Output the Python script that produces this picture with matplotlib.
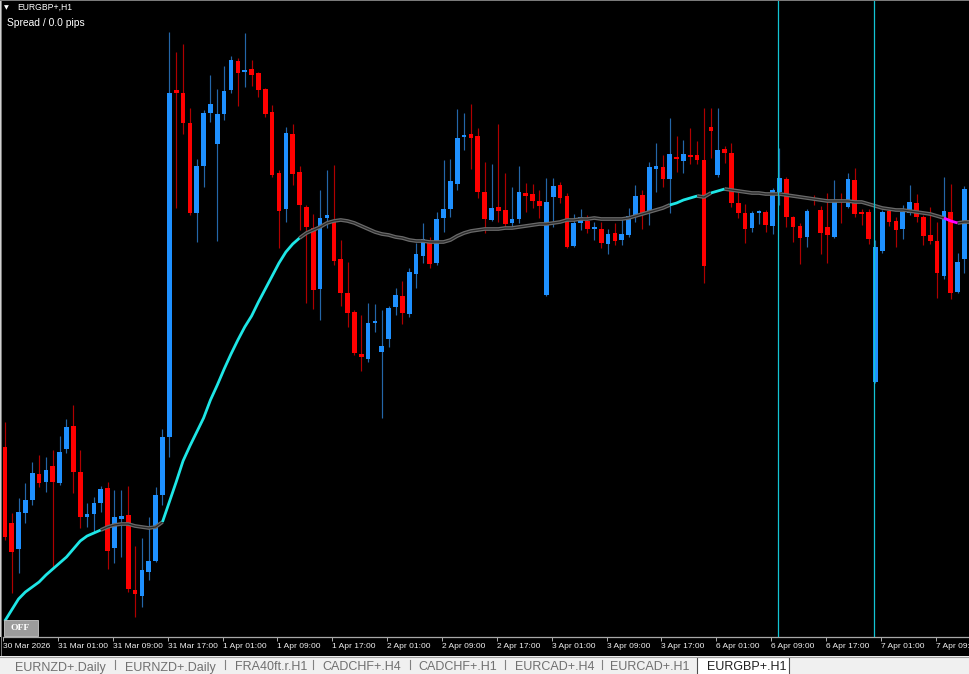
import numpy as np
import matplotlib
matplotlib.use('Agg')
import matplotlib.pyplot as plt
from matplotlib.patches import Rectangle

W, H = 970, 674

symbol = 'EURGBP+,H1'
spread_text = 'Spread / 0.0 pips'

# hourly OHLC, bar 0 = 30 Mar 17:00
opens = [0.86553, 0.86477, 0.86451, 0.86487, 0.86500, 0.86526, 0.86518, 0.86534, 0.86517, 0.86551,
         0.86574, 0.86528, 0.86483, 0.86486, 0.86497, 0.86512, 0.86452, 0.86481, 0.86485, 0.86410,
         0.86404, 0.86428, 0.86439, 0.86505, 0.86563, 0.86910, 0.86907, 0.86877, 0.86787, 0.86834,
         0.86887, 0.86856, 0.86886, 0.86910, 0.86939, 0.86928, 0.86931, 0.86927, 0.86911, 0.86888,
         0.86827, 0.86791, 0.86866, 0.86828, 0.86793, 0.86772, 0.86711, 0.86782, 0.86780, 0.86741,
         0.86707, 0.86688, 0.86646, 0.86641, 0.86677, 0.86648, 0.86661, 0.86693, 0.86704, 0.86686,
         0.86726, 0.86744, 0.86757, 0.86737, 0.86782, 0.86791, 0.86816, 0.86863, 0.86866, 0.86864,
         0.86808, 0.86780, 0.86793, 0.86790, 0.86777, 0.86781, 0.86807, 0.86806, 0.86799, 0.86705,
         0.86803, 0.86815, 0.86804, 0.86754, 0.86777, 0.86779, 0.86771, 0.86771, 0.86756, 0.86767,
         0.86760, 0.86765, 0.86784, 0.86805, 0.86787, 0.86831, 0.86833, 0.86821, 0.86843, 0.86839,
         0.86845, 0.86845, 0.86840, 0.86873, 0.86825, 0.86851, 0.86847, 0.86797, 0.86787, 0.86772,
         0.86787, 0.86788, 0.86774, 0.86808, 0.86821, 0.86783, 0.86774, 0.86763, 0.86801, 0.86790,
         0.86773, 0.86763, 0.86800, 0.86793, 0.86820, 0.86788, 0.86788, 0.86618, 0.86749, 0.86789,
         0.86779, 0.86771, 0.86787, 0.86797, 0.86783, 0.86765, 0.86759, 0.86724, 0.86788, 0.86708,
         0.86741, 0.86811]
highs = [0.86578, 0.86487, 0.86502, 0.86517, 0.86538, 0.86545, 0.86543, 0.86550, 0.86564, 0.86581,
         0.86595, 0.86550, 0.86497, 0.86503, 0.86514, 0.86518, 0.86510, 0.86510, 0.86514, 0.86454,
         0.86462, 0.86483, 0.86513, 0.86571, 0.86968, 0.86948, 0.86956, 0.86892, 0.86841, 0.86890,
         0.86925, 0.86911, 0.86934, 0.86944, 0.86942, 0.86967, 0.86940, 0.86928, 0.86912, 0.86895,
         0.86830, 0.86873, 0.86876, 0.86834, 0.86795, 0.86786, 0.86810, 0.86830, 0.86835, 0.86760,
         0.86738, 0.86690, 0.86685, 0.86697, 0.86696, 0.86690, 0.86694, 0.86712, 0.86719, 0.86732,
         0.86757, 0.86777, 0.86763, 0.86788, 0.86840, 0.86841, 0.86891, 0.86887, 0.86896, 0.86872,
         0.86838, 0.86836, 0.86876, 0.86827, 0.86813, 0.86834, 0.86817, 0.86816, 0.86810, 0.86822,
         0.86822, 0.86818, 0.86807, 0.86786, 0.86791, 0.86785, 0.86778, 0.86778, 0.86771, 0.86777,
         0.86782, 0.86792, 0.86815, 0.86810, 0.86838, 0.86857, 0.86845, 0.86882, 0.86864, 0.86860,
         0.86872, 0.86859, 0.86892, 0.86892, 0.86892, 0.86854, 0.86857, 0.86808, 0.86796, 0.86789,
         0.86790, 0.86790, 0.86812, 0.86852, 0.86823, 0.86784, 0.86777, 0.86791, 0.86805, 0.86794,
         0.86807, 0.86820, 0.86807, 0.86827, 0.86832, 0.86791, 0.86791, 0.86760, 0.86790, 0.86791,
         0.86783, 0.86795, 0.86815, 0.86806, 0.86785, 0.86793, 0.86778, 0.86823, 0.86816, 0.86747,
         0.86814, 0.86840]
lows = [0.86460, 0.86407, 0.86427, 0.86477, 0.86495, 0.86513, 0.86508, 0.86433, 0.86515, 0.86547,
        0.86507, 0.86472, 0.86473, 0.86468, 0.86488, 0.86431, 0.86437, 0.86443, 0.86408, 0.86383,
        0.86393, 0.86420, 0.86438, 0.86495, 0.86543, 0.86792, 0.86866, 0.86785, 0.86758, 0.86813,
        0.86878, 0.86759, 0.86880, 0.86907, 0.86894, 0.86913, 0.86914, 0.86903, 0.86883, 0.86823,
        0.86752, 0.86778, 0.86815, 0.86770, 0.86697, 0.86691, 0.86680, 0.86772, 0.86735, 0.86694,
        0.86673, 0.86645, 0.86629, 0.86638, 0.86668, 0.86582, 0.86653, 0.86685, 0.86676, 0.86683,
        0.86712, 0.86737, 0.86732, 0.86735, 0.86768, 0.86783, 0.86810, 0.86850, 0.86831, 0.86802,
        0.86767, 0.86779, 0.86778, 0.86772, 0.86772, 0.86777, 0.86788, 0.86792, 0.86782, 0.86704,
        0.86773, 0.86797, 0.86752, 0.86753, 0.86770, 0.86767, 0.86760, 0.86752, 0.86746, 0.86755,
        0.86755, 0.86763, 0.86778, 0.86771, 0.86775, 0.86808, 0.86813, 0.86787, 0.86828, 0.86827,
        0.86836, 0.86836, 0.86717, 0.86842, 0.86823, 0.86837, 0.86793, 0.86782, 0.86757, 0.86768,
        0.86776, 0.86768, 0.86766, 0.86795, 0.86773, 0.86758, 0.86736, 0.86753, 0.86795, 0.86746,
        0.86737, 0.86762, 0.86777, 0.86792, 0.86783, 0.86775, 0.86756, 0.86617, 0.86747, 0.86774,
        0.86753, 0.86761, 0.86785, 0.86778, 0.86755, 0.86756, 0.86702, 0.86721, 0.86701, 0.86707,
        0.86727, 0.86810]
closes = [0.86463, 0.86448, 0.86488, 0.86500, 0.86527, 0.86517, 0.86530, 0.86518, 0.86548, 0.86573,
          0.86528, 0.86483, 0.86486, 0.86497, 0.86511, 0.86449, 0.86483, 0.86484, 0.86411, 0.86406,
          0.86430, 0.86439, 0.86505, 0.86563, 0.86907, 0.86907, 0.86877, 0.86787, 0.86834, 0.86887,
          0.86896, 0.86886, 0.86909, 0.86940, 0.86927, 0.86930, 0.86925, 0.86910, 0.86886, 0.86825,
          0.86789, 0.86867, 0.86826, 0.86795, 0.86773, 0.86710, 0.86782, 0.86785, 0.86739, 0.86707,
          0.86687, 0.86647, 0.86643, 0.86677, 0.86679, 0.86654, 0.86692, 0.86705, 0.86687, 0.86728,
          0.86746, 0.86761, 0.86736, 0.86781, 0.86791, 0.86819, 0.86862, 0.86865, 0.86862, 0.86808,
          0.86781, 0.86792, 0.86789, 0.86776, 0.86781, 0.86808, 0.86804, 0.86799, 0.86794, 0.86798,
          0.86814, 0.86802, 0.86753, 0.86777, 0.86783, 0.86771, 0.86773, 0.86757, 0.86766, 0.86759,
          0.86766, 0.86784, 0.86804, 0.86785, 0.86833, 0.86834, 0.86821, 0.86846, 0.86841, 0.86846,
          0.86843, 0.86840, 0.86734, 0.86869, 0.86850, 0.86847, 0.86797, 0.86787, 0.86771, 0.86787,
          0.86789, 0.86775, 0.86810, 0.86822, 0.86783, 0.86773, 0.86762, 0.86789, 0.86800, 0.86767,
          0.86765, 0.86798, 0.86798, 0.86821, 0.86786, 0.86786, 0.86761, 0.86753, 0.86788, 0.86778,
          0.86770, 0.86788, 0.86798, 0.86783, 0.86764, 0.86759, 0.86727, 0.86789, 0.86707, 0.86738,
          0.86811, 0.86832]

# moving average, one value per bar
ma = [0.86379, 0.86390, 0.86401, 0.86408, 0.86413, 0.86418, 0.86425, 0.86431, 0.86437, 0.86443,
      0.86451, 0.86459, 0.86464, 0.86467, 0.86470, 0.86473, 0.86475, 0.86476, 0.86476, 0.86474,
      0.86473, 0.86472, 0.86473, 0.86478, 0.86498, 0.86518, 0.86539, 0.86554, 0.86568, 0.86582,
      0.86600, 0.86615, 0.86631, 0.86646, 0.86660, 0.86673, 0.86684, 0.86698, 0.86711, 0.86724,
      0.86737, 0.86748, 0.86756, 0.86762, 0.86767, 0.86770, 0.86773, 0.86777, 0.86779, 0.86780,
      0.86779, 0.86777, 0.86774, 0.86771, 0.86768, 0.86766, 0.86765, 0.86763, 0.86762, 0.86760,
      0.86759, 0.86759, 0.86758, 0.86758, 0.86758, 0.86760, 0.86764, 0.86767, 0.86769, 0.86770,
      0.86771, 0.86771, 0.86771, 0.86772, 0.86772, 0.86773, 0.86774, 0.86775, 0.86776, 0.86776,
      0.86777, 0.86778, 0.86780, 0.86780, 0.86781, 0.86781, 0.86782, 0.86781, 0.86781, 0.86781,
      0.86781, 0.86782, 0.86784, 0.86786, 0.86788, 0.86790, 0.86792, 0.86795, 0.86797, 0.86800,
      0.86802, 0.86804, 0.86803, 0.86807, 0.86809, 0.86811, 0.86810, 0.86809, 0.86808, 0.86807,
      0.86807, 0.86806, 0.86806, 0.86806, 0.86805, 0.86804, 0.86803, 0.86802, 0.86801, 0.86800,
      0.86799, 0.86799, 0.86799, 0.86799, 0.86798, 0.86798, 0.86796, 0.86794, 0.86792, 0.86791,
      0.86790, 0.86790, 0.86789, 0.86788, 0.86787, 0.86786, 0.86784, 0.86782, 0.86779, 0.86777,
      0.86778, 0.86778]
# (first bar, last bar, trend) of the colour-coded MA
ma_runs = [(0, 14, 'up'), (14, 23, 'flat'), (23, 43, 'up'), (43, 97, 'flat'),
           (97, 101, 'up'), (101, 103, 'flat'), (103, 105, 'up'), (105, 137, 'flat'),
           (137, 139, 'down'), (139, 141, 'flat')]

time_labels = ['30 Mar 2026', '31 Mar 01:00', '31 Mar 09:00', '31 Mar 17:00', '1 Apr 01:00',
               '1 Apr 09:00', '1 Apr 17:00', '2 Apr 01:00', '2 Apr 09:00', '2 Apr 17:00',
               '3 Apr 01:00', '3 Apr 09:00', '3 Apr 17:00', '6 Apr 01:00', '6 Apr 09:00',
               '6 Apr 17:00', '7 Apr 01:00', '7 Apr 09:00']
label_every = 8
marker_bars = [112.8, 126.8]

tabs = ['EURNZD+.Daily', 'EURNZD+.Daily', 'FRA40ft.r.H1', 'CADCHF+.H4', 'CADCHF+.H1',
        'EURCAD+.H4', 'EURCAD+.H1', 'EURGBP+.H1']
tab_x = [15, 125, 235, 322, 418, 515, 610, 707]
sep_x = [115, 225, 313, 410, 505, 602]

BULL, BEAR = '#1e90ff', '#ff0000'
BULL_WICK, BEAR_WICK = '#2466a8', '#b00000'
MA_COLORS = {'up': '#1ee6e6', 'down': '#ff00ff'}


def fx(px):
    return px / W


def fy(py):
    return 1 - py / H


fig = plt.figure(figsize=(W / 100, H / 100), dpi=100, facecolor='black')

# price pane, 6.855 px per bar, 1 point = 1 px vertically
bar_px = 6.855
ax = fig.add_axes([fx(3), fy(637), fx(967), 637 / H])
ax.set_facecolor('black')
ax.set_xlim(-1.8 / bar_px, -1.8 / bar_px + 967 / bar_px)
ax.set_ylim(0.87 - 637e-5, 0.87)

o = np.array(opens)
h = np.array(highs)
l = np.array(lows)
c = np.array(closes)
x = np.arange(len(o))
up = c >= o

ax.vlines(x[up], l[up], h[up], color=BULL_WICK, lw=0.85, zorder=2)
ax.vlines(x[~up], l[~up], h[~up], color=BEAR_WICK, lw=0.85, zorder=2)
body_lo = np.minimum(o, c)
body_h = np.maximum(np.abs(c - o), 1.4e-5)
ax.bar(x[up], body_h[up], bottom=body_lo[up], width=0.68, color=BULL, lw=0, zorder=3)
ax.bar(x[~up], body_h[~up], bottom=body_lo[~up], width=0.68, color=BEAR, lw=0, zorder=3)

# colour-coded moving average
ma_arr = np.array(ma)
for start, end, trend in ma_runs:
    seg_x = x[start:end + 1]
    seg_y = ma_arr[start:end + 1]
    if trend == 'flat':
        ax.plot(seg_x, seg_y, color='#6a6a6a', lw=2.7, zorder=4, solid_capstyle='butt')
        ax.plot(seg_x, seg_y, color='#2a2a2a', lw=0.9, zorder=5, solid_capstyle='butt')
    else:
        ax.plot(seg_x, seg_y, color=MA_COLORS[trend], lw=2.0, zorder=5, solid_capstyle='butt')

for mb in marker_bars:
    ax.axvline(mb, color='#12c4d4', lw=0.9, zorder=6)

ticks = np.arange(len(time_labels)) * label_every - 0.22
ax.set_xticks(ticks)
ax.set_xticklabels(time_labels, fontsize=6, family='Liberation Sans', color='#f0f0f0', ha='left')
ax.tick_params(axis='x', direction='out', length=3, width=0.7, color='#b0b0b0', pad=1.2)
ax.set_yticks([])
for side in ['top', 'right', 'left']:
    ax.spines[side].set_visible(False)
ax.spines['bottom'].set_color('#a8a8a8')
ax.spines['bottom'].set_linewidth(0.9)

# header
fig.text(fx(4), fy(7.5), '\u25bc', fontsize=4.5, color='white', va='center', ha='left')
fig.text(fx(17), fy(7.5), symbol, fontsize=6.2, family='Liberation Sans', color='white', va='center')
fig.text(fx(7), fy(23), spread_text, fontsize=7.4, family='Liberation Sans', color='white', va='center')

# window frame
fig.patches.append(Rectangle((0, fy(637)), fx(1), 637 / H, transform=fig.transFigure,
                             facecolor='#d0d0d0', lw=0))
fig.patches.append(Rectangle((fx(1), fy(656)), fx(1.5), 656 / H, transform=fig.transFigure,
                             facecolor='#7a7a7a', lw=0))
fig.patches.append(Rectangle((0, fy(1)), 1, 1 / H, transform=fig.transFigure,
                             facecolor='#7a7a7a', lw=0))

# OFF button
fig.patches.append(Rectangle((fx(4), fy(636)), fx(34), 16 / H, transform=fig.transFigure,
                             facecolor='#9c9c9c', edgecolor='#c8c8c8', lw=0.6))
fig.text(fx(20.5), fy(628.5), 'OFF', fontsize=6.8, family='Liberation Serif', weight='bold',
         color='white', ha='center', va='center')

# tab strip
tab_ax = fig.add_axes([0, 0, 1, 18 / H])
tab_ax.set_xlim(0, W)
tab_ax.set_ylim(674, 656)
tab_ax.set_facecolor('#f0f0f0')
tab_ax.axis('off')
tab_ax.add_patch(Rectangle((0, 656), W, 18, facecolor='#f0f0f0', lw=0))
tab_ax.plot([0, W], [656.5, 656.5], color='#a0a0a0', lw=0.8)
tab_ax.add_patch(Rectangle((697, 657), 92, 20, facecolor='white', edgecolor='#505050', lw=0.8))
for i, name in enumerate(tabs):
    active = i == len(tabs) - 1
    tab_ax.text(tab_x[i], 667.5, name, fontsize=9, family='Liberation Sans',
                color='#222222' if active else '#707070', va='center', ha='left')
for sx in sep_x:
    tab_ax.plot([sx, sx], [660, 669], color='#808080', lw=0.8)

fig.savefig('out.png', dpi=100, facecolor='black')
